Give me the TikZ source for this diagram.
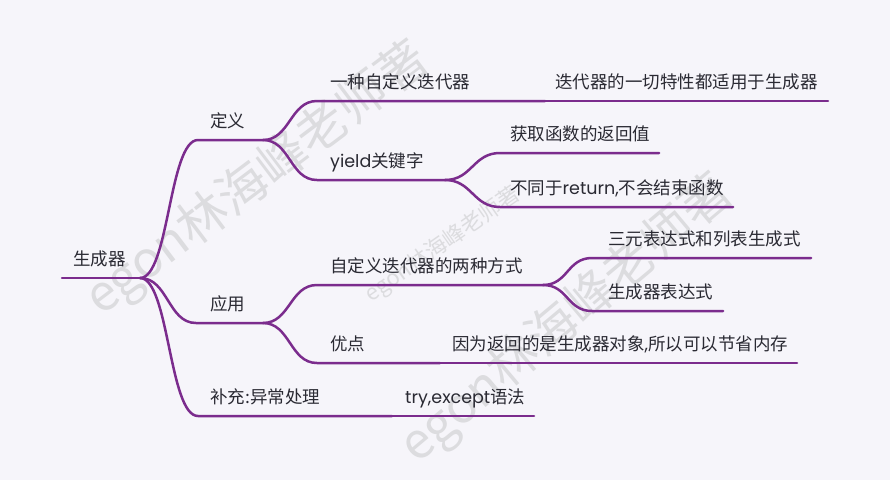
\documentclass[tikz,border=0pt]{standalone}
\usepackage{fontspec}
\setmainfont{Noto Sans CJK SC}
\newfontfamily\lat{Poppins}
\definecolor{bg}{HTML}{F6F5FA}
\definecolor{lc}{HTML}{7B2C8D}
\definecolor{tc}{HTML}{2A2A33}
\definecolor{wc}{HTML}{DCDCDF}
\tikzset{
  br/.style={line width=2.5pt, draw=lc, line cap=round, line join=round},
  lbl/.style={anchor=base west, inner sep=0pt, text=tc, font=\fontsize{17.5}{20}\selectfont},
  wmk/.style={text=wc, inner sep=0pt, anchor=center}
}
\begin{document}
\begin{tikzpicture}[x=1pt,y=-1pt]
\fill[bg] (0,0) rectangle (890,480);
\useasboundingbox (0,0) rectangle (890,480);
% watermarks
\node[wmk, rotate=37, font=\fontsize{50}{50}\selectfont] (wm1) at (258,180) {egon林海峰老师著};
\node[wmk, rotate=35, font=\fontsize{22}{22}\selectfont] (wm2) at (443,245) {egon林海峰老师著};
\node[wmk, rotate=40, font=\fontsize{50}{50}\selectfont] (wm3) at (567,320) {egon林海峰老师著};
% coordinates
\coordinate (r-s) at (62,278);   \coordinate (r-e) at (140,278);
\coordinate (d-s) at (198,140);  \coordinate (d-e) at (263,140);
\coordinate (y-s) at (196,323);  \coordinate (y-e) at (263,323);
\coordinate (b-s) at (198,416);  \coordinate (b-e) at (392,416);
\coordinate (t-s) at (392,416);  \coordinate (t-e) at (534,416);
\coordinate (a1-s) at (317,101); \coordinate (a1-e) at (545,101);
\coordinate (a1c-s) at (545,101);\coordinate (a1c-e) at (828,101);
\coordinate (a2-s) at (317,180); \coordinate (a2-e) at (445,180);
\coordinate (a21-s) at (500,153);\coordinate (a21-e) at (659,153);
\coordinate (a22-s) at (500,207);\coordinate (a22-e) at (733,207);
\coordinate (b1-s) at (317,285); \coordinate (b1-e) at (543,285);
\coordinate (b11-s) at (592,258);\coordinate (b11-e) at (811,258);
\coordinate (b12-s) at (592,311);\coordinate (b12-e) at (723,311);
\coordinate (b2-s) at (317,363); \coordinate (b2-e) at (440,363);
\coordinate (b2c-s) at (440,363);\coordinate (b2c-e) at (797,363);
% branches
\draw[br] (r-s) -- (r-e);
\draw[br] (r-e) .. controls +(29,0) and +(-29,0) .. (d-s) -- (d-e);
\draw[br] (r-e) .. controls +(28,0) and +(-28,0) .. (y-s) -- (y-e);
\draw[br] (r-e) .. controls +(29,0) and +(-29,0) .. (b-s) -- (b-e);
\draw[br] (b-e) -- (t-s) -- (t-e);
\draw[br] (d-e) .. controls +(27,0) and +(-27,0) .. (a1-s) -- (a1-e);
\draw[br] (a1-e) -- (a1c-s) -- (a1c-e);
\draw[br] (d-e) .. controls +(27,0) and +(-27,0) .. (a2-s) -- (a2-e);
\draw[br] (a2-e) .. controls +(27,0) and +(-27,0) .. (a21-s) -- (a21-e);
\draw[br] (a2-e) .. controls +(27,0) and +(-27,0) .. (a22-s) -- (a22-e);
\draw[br] (y-e) .. controls +(27,0) and +(-27,0) .. (b1-s) -- (b1-e);
\draw[br] (y-e) .. controls +(27,0) and +(-27,0) .. (b2-s) -- (b2-e);
\draw[br] (b1-e) .. controls +(25,0) and +(-25,0) .. (b11-s) -- (b11-e);
\draw[br] (b1-e) .. controls +(25,0) and +(-25,0) .. (b12-s) -- (b12-e);
\draw[br] (b2-e) -- (b2c-s) -- (b2c-e);
% labels
\node[lbl] (r) at (73,265) {生成器};
\node[lbl] (d) at (210,127) {定义};
\node[lbl] (y) at (210,310) {应用};
\node[lbl] (b) at (210,403) {补充:异常处理};
\node[lbl] (t) at (405,403) {{\lat try,except}语法};
\node[lbl] (a1) at (330,88) {一种自定义迭代器};
\node[lbl] (a1c) at (555,88) {迭代器的一切特性都适用于生成器};
\node[lbl] (a2) at (330,167) {{\lat yield}关键字};
\node[lbl] (a21) at (510,140) {获取函数的返回值};
\node[lbl] (a22) at (510,194) {不同于{\lat return,}不会结束函数};
\node[lbl] (b1) at (330,272) {自定义迭代器的两种方式};
\node[lbl] (b11) at (608,245) {三元表达式和列表生成式};
\node[lbl] (b12) at (608,298) {生成器表达式};
\node[lbl] (b2) at (330,350) {优点};
\node[lbl] (b2c) at (452,350) {因为返回的是生成器对象{\lat ,}所以可以节省内存};
\end{tikzpicture}
\end{document}
